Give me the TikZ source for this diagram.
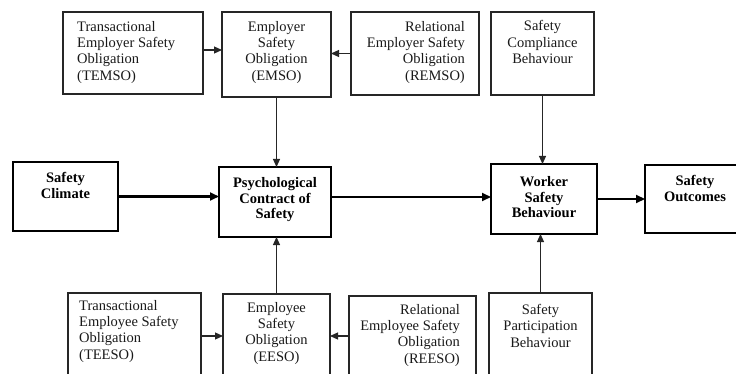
\documentclass[tikz,border=0pt]{standalone}
\usepackage{fontspec}
\setmainfont{Liberation Serif}
\usetikzlibrary{arrows.meta}
\begin{document}
\begin{tikzpicture}[x=1pt,y=-1pt,
  box/.style={rectangle, anchor=north west, inner sep=0pt, outer sep=0pt},
  thinbox/.style={box, draw=black!85, line width=1.1pt},
  thickbox/.style={box, draw=black, line width=2.4pt},
  txt/.style={inner sep=0pt, text=black!90, font=\fontsize{14.5}{16.3}\selectfont},
  btxt/.style={inner sep=0pt, text=black, font=\fontsize{14.5}{15.8}\selectfont\bfseries},
  thinarrow/.style={draw=black!85, line width=1.1pt, -{Triangle[length=8pt,width=7pt]}},
  thickarrow/.style={draw=black, line width=2.2pt, -{Triangle[length=9pt,width=8pt]}}
]
\useasboundingbox (0,0) rectangle (736,374);
% top row
\node[thinbox, minimum width=140pt, minimum height=82pt] (temso) at (63,12) {};
\node[thinbox, minimum width=109pt, minimum height=85pt] (emso) at (222,12) {};
\node[thinbox, minimum width=128pt, minimum height=83pt] (remso) at (351,12) {};
\node[thinbox, minimum width=103pt, minimum height=83pt] (scb) at (491,12) {};
% middle row
\node[thickbox, minimum width=105pt, minimum height=69pt] (sc) at (13,162) {};
\node[thickbox, minimum width=112pt, minimum height=70pt] (pcs) at (219,167) {};
\node[thickbox, minimum width=106pt, minimum height=70pt] (wsb) at (491,164) {};
\node[thickbox, minimum width=96pt, minimum height=68pt] (so) at (645,165) {};
% bottom row
\node[thinbox, minimum width=133pt, minimum height=86pt] (teeso) at (68,293) {};
\node[thinbox, minimum width=107pt, minimum height=84pt] (eeso) at (223,294) {};
\node[thinbox, minimum width=127pt, minimum height=80pt] (reeso) at (349,296) {};
\node[thinbox, minimum width=103pt, minimum height=86pt] (spb) at (489,293) {};
% texts
\node[txt, anchor=north west, align=left] (temsoT) at (77,21) {Transactional\\Employer Safety\\Obligation\\(TEMSO)};
\node[txt, anchor=north, align=center] (emsoT) at (276.5,21) {Employer\\Safety\\Obligation\\(EMSO)};
\node[txt, anchor=north east, align=right] (remsoT) at (465,21) {Relational\\Employer Safety\\Obligation\\(REMSO)};
\node[txt, anchor=north, align=center] (scbT) at (542.5,20.5) {Safety\\Compliance\\Behaviour};
\node[btxt, anchor=north, align=center] (scT) at (65.5,172) {Safety\\Climate};
\node[btxt, anchor=north, align=center] (pcsT) at (275,177) {Psychological\\Contract of\\Safety};
\node[btxt, anchor=north, align=center] (wsbT) at (544,176) {Worker\\Safety\\Behaviour};
\node[btxt, anchor=north, align=center] (soT) at (695,175) {Safety\\Outcomes};
\node[txt, anchor=north west, align=left] (teesoT) at (79,300) {Transactional\\Employee Safety\\Obligation\\(TEESO)};
\node[txt, anchor=north, align=center] (eesoT) at (276.5,302) {Employee\\Safety\\Obligation\\(EESO)};
\node[txt, anchor=north east, align=right] (reesoT) at (460,304) {Relational\\Employee Safety\\Obligation\\(REESO)};
\node[txt, anchor=north, align=center] (spbT) at (540.5,304) {Safety\\Participation\\Behaviour};
% connectors
\draw[thinarrow] ([yshift=3pt]temso.east) -- ([yshift=3pt]temso.east -| emso.west);
\draw[thinarrow] (remso.west) -- (remso.west -| emso.east);
\draw[thinarrow] (emso.south) -- (emso.south |- pcs.north);
\draw[thinarrow] (scb.south) -- (scb.south |- wsb.north);
\draw[thickarrow] (sc.east) -- (sc.east -| pcs.west);
\draw[thickarrow] ([yshift=5pt]pcs.east) -- ([yshift=5pt]pcs.east -| wsb.west);
\draw[thickarrow] (wsb.east) -- (wsb.east -| so.west);
\draw[thinarrow] (teeso.east) -- (teeso.east -| eeso.west);
\draw[thinarrow] (reeso.west) -- (reeso.west -| eeso.east);
\draw[thinarrow] (eeso.north) -- (eeso.north |- pcs.south);
\draw[thinarrow] (spb.north) -- (spb.north |- wsb.south);
\end{tikzpicture}
\end{document}
